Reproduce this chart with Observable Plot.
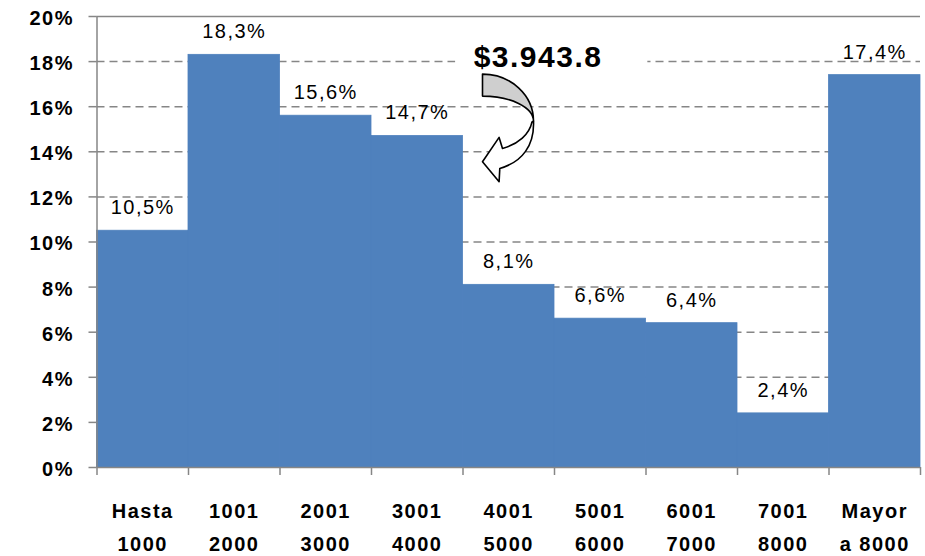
<!DOCTYPE html>
<html><head><meta charset="utf-8">
<script src="https://cdn.jsdelivr.net/npm/d3@7"></script>
<script src="https://cdn.jsdelivr.net/npm/@observablehq/plot@0.6"></script>
<style>
html,body{margin:0;padding:0;background:#fff;}
#chart svg text{letter-spacing:1.5px;}
</style></head><body><div id="chart"></div>
<script>
const categories = ["Hasta\n1000","1001\n2000","2001\n3000","3001\n4000","4001\n5000","5001\n6000","6001\n7000","7001\n8000","Mayor\na 8000"];
const values = [10.5, 18.3, 15.6, 14.7, 8.1, 6.6, 6.4, 2.4, 17.4];
const valueLabels = ["10,5%","18,3%","15,6%","14,7%","8,1%","6,6%","6,4%","2,4%","17,4%"];
const yTicks = [0,2,4,6,8,10,12,14,16,18,20];
const annotationText = "$3.943.8";

const data = categories.map((c, i) => {
  const [line1, line2] = c.split("\n");
  return {i, line1, line2, v: values[i], label: valueLabels[i]};
});
const boundaries = d3.range(categories.length + 1);
const grid = "#868686";
const barColor = "#4f81bd";

const plot = Plot.plot({
  width: 925, height: 556,
  marginLeft: 96.5, marginRight: 5, marginTop: 16, marginBottom: 89,
  style: {fontFamily: "'Liberation Sans', Arial, sans-serif", background: "#fff", overflow: "visible", color: "#000"},
  x: {domain: [0, categories.length]},
  y: {domain: [0, 20]},
  marks: [
    Plot.ruleY(yTicks.filter(t => t > 0 && t < 20), {stroke: grid, strokeWidth: 1.5, strokeDasharray: "8,5"}),
    Plot.ruleY([20], {stroke: grid, strokeWidth: 1.5}),
    Plot.rect([annotationText], {x1: () => 3.92, x2: () => 6.02, y1: () => 17.5, y2: () => 19.2, fill: "white"}),
    Plot.rectY(data, {x1: "i", x2: d => d.i + 1, y: "v", fill: barColor, stroke: barColor, strokeWidth: 0.8}),
    Plot.ruleX([0], {stroke: grid, strokeWidth: 1.5}),
    Plot.ruleY([0], {stroke: grid, strokeWidth: 1.5}),
    Plot.axisY({ticks: yTicks, tickSize: 8, tickFormat: () => "", stroke: grid, strokeWidth: 1.5, label: null}),
    Plot.axisX({ticks: boundaries, tickSize: 8, tickFormat: () => "", stroke: grid, strokeWidth: 1.5, label: null}),
    Plot.text(yTicks, {x: () => 0, y: d => d, text: d => d + "%", textAnchor: "end", dx: -23, dy: 2, fontSize: 20, fontWeight: "bold", fill: "#000"}),
    Plot.text(data, {x: d => d.i + 0.5, y: "v", text: "label", dy: -23, fontSize: 20, fill: "#000"}),
    Plot.text(data, {x: d => d.i + 0.5, y: () => 0, text: "line1", dy: 44, fontSize: 20, fontWeight: "bold", fill: "#000"}),
    Plot.text(data, {x: d => d.i + 0.5, y: () => 0, text: "line2", dy: 77, fontSize: 20, fontWeight: "bold", fill: "#000"}),
    Plot.text([annotationText], {x: () => 4.82, y: () => 18.2, text: d => d, fontSize: 30, fontWeight: "bold", fill: "#000"})
  ]
});

document.getElementById("chart").appendChild(plot);

// curved arrow annotation anchored to the scales
const sx = plot.scale("x"), sy = plot.scale("y");
const ox = sx.apply(4), oy = sy.apply(18);
const g = d3.select(plot).append("g").attr("transform", `translate(${ox},${oy})`)
  .attr("stroke", "#000").attr("stroke-width", 1.6).attr("stroke-linejoin", "round");
g.append("path").attr("fill", "#cfcfcf")
  .attr("d", "M20,13 A51,47 0 0 1 71,60 A51,25 0 0 0 20,35 Z");
g.append("path").attr("fill", "#fff")
  .attr("d", "M71,60 C72,84 60,101 37.3,107.3 L36.6,120.7 L20,100.7 L36.6,76.3 L40,87.3 C56,83 67,73 69.5,60.8 Z");
</script></body></html>
